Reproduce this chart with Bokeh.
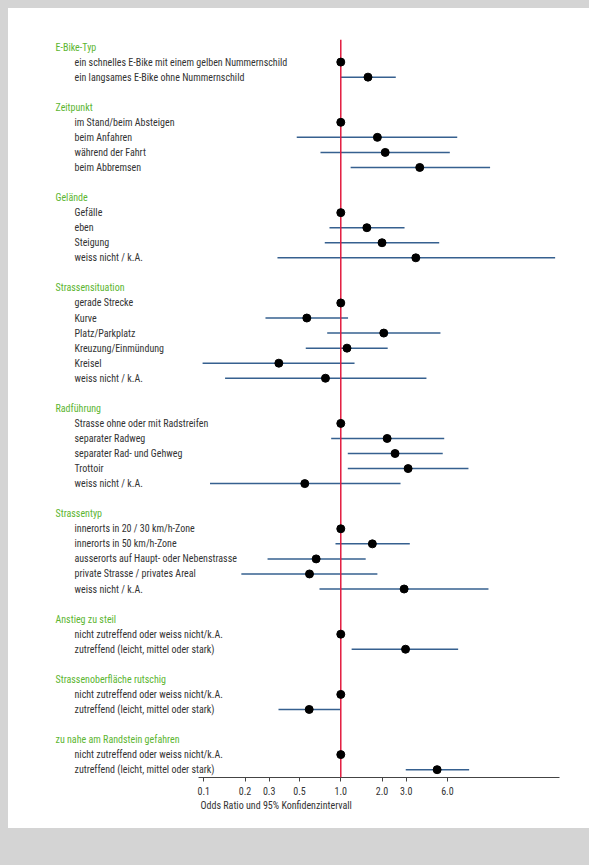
from bokeh.plotting import figure
from bokeh.models import (ColumnDataSource, LabelSet, Span, FixedTicker,
                          CustomJSTickFormatter, Range1d, Title)
from bokeh.core.properties import value
from bokeh.embed import file_html
from bokeh.resources import INLINE

# ---------------- data ----------------
group_names = [
    "E-Bike-Typ", "Zeitpunkt", "Gelände", "Strassensituation", "Radführung",
    "Strassentyp", "Anstieg zu steil", "Strassenoberfläche rutschig",
    "zu nahe am Randstein gefahren",
]
group_sizes = [2, 4, 4, 6, 5, 5, 2, 2, 2]

item_labels = [
    "ein schnelles E-Bike mit einem gelben Nummernschild",
    "ein langsames E-Bike ohne Nummernschild",
    "im Stand/beim Absteigen",
    "beim Anfahren",
    "während der Fahrt",
    "beim Abbremsen",
    "Gefälle",
    "eben",
    "Steigung",
    "weiss nicht / k.A.",
    "gerade Strecke",
    "Kurve",
    "Platz/Parkplatz",
    "Kreuzung/Einmündung",
    "Kreisel",
    "weiss nicht / k.A.",
    "Strasse ohne oder mit Radstreifen",
    "separater Radweg",
    "separater Rad- und Gehweg",
    "Trottoir",
    "weiss nicht / k.A.",
    "innerorts in 20 / 30 km/h-Zone",
    "innerorts in 50 km/h-Zone",
    "ausserorts auf Haupt- oder Nebenstrasse",
    "private Strasse / privates Areal",
    "weiss nicht / k.A.",
    "nicht zutreffend oder weiss nicht/k.A.",
    "zutreffend (leicht, mittel oder stark)",
    "nicht zutreffend oder weiss nicht/k.A.",
    "zutreffend (leicht, mittel oder stark)",
    "nicht zutreffend oder weiss nicht/k.A.",
    "zutreffend (leicht, mittel oder stark)",
]

odds_ratio = [1.0, 1.58,
              1.0, 1.85, 2.11, 3.77,
              1.0, 1.55, 2.00, 3.53,
              1.0, 0.565, 2.06, 1.11, 0.353, 0.773,
              1.0, 2.18, 2.49, 3.10, 0.546,
              1.0, 1.70, 0.661, 0.591, 2.90,
              1.0, 2.97,
              1.0, 0.588,
              1.0, 5.05]
ci_low = [1.0, 1.0,
          1.0, 0.477, 0.711, 1.18,
          1.0, 0.827, 0.764, 0.345,
          1.0, 0.282, 0.796, 0.555, 0.098, 0.143,
          1.0, 0.851, 1.125, 1.125, 0.111,
          1.0, 0.915, 0.292, 0.188, 0.699,
          1.0, 1.20,
          1.0, 0.351,
          1.0, 2.98]
ci_high = [1.0, 2.52,
           1.0, 7.08, 6.25, 12.3,
           1.0, 2.92, 5.23, 36.7,
           1.0, 1.13, 5.34, 2.20, 1.26, 4.22,
           1.0, 5.69, 5.55, 8.55, 2.73,
           1.0, 3.19, 1.52, 1.85, 11.97,
           1.0, 7.19,
           1.0, 1.0,
           1.0, 8.65]

tick_values = [0.1, 0.2, 0.3, 0.5, 1.0, 2.0, 3.0, 6.0]
axis_bounds = (0.0914, 39.5)
x_label = "Odds Ratio und 95% Konfidenzintervall"

# ---------------- row layout (header, items, blank) ----------------
header_rows = []
item_rows = []
r = 0
for n in group_sizes:
    header_rows.append(r)
    item_rows.extend(range(r + 1, r + 1 + n))
    r += n + 2
last_row = r - 2

FONT_STR = "'Roboto Condensed', 'DejaVu Sans Condensed', sans-serif"
FONT = value(FONT_STR)
FS = "10px"
GREEN = "#5cb531"
TEXT = "#333333"
BLUE = "#36608f"
RED = "#e31b3f"

# the frame spans the label column too, so the labels are not clipped;
# the axis itself is limited to the data bounds
p = figure(
    width=573, height=828,
    x_axis_type="log",
    x_range=Range1d(0.003753, 39.5),
    y_range=Range1d(last_row + 0.52, -0.5),
    y_axis_location=None,
    toolbar_location=None,
    output_backend="svg",
    min_border_left=0, min_border_right=22,
    min_border_top=31, min_border_bottom=59,
    outline_line_color=None,
    background_fill_color="white",
    border_fill_color="white",
)
p.grid.visible = False

ci_src = ColumnDataSource(dict(y=item_rows, lo=ci_low, hi=ci_high, orr=odds_ratio))
p.segment(x0="lo", y0="y", x1="hi", y1="y", source=ci_src,
          line_color=BLUE, line_width=1.5)

ref = Span(location=1.0, dimension="height", line_color=RED, line_width=1.5)
p.add_layout(ref)

pts = p.scatter(x="orr", y="y", source=ci_src, size=8,
                fill_color="black", line_color="black")
pts.level = "overlay"

# left text labels (screen x measured from the frame's left edge)
hdr_src = ColumnDataSource(dict(y=header_rows, text=group_names))
itm_src = ColumnDataSource(dict(y=item_rows, text=item_labels))
p.add_layout(LabelSet(x=47, x_units="screen", y="y", text="text", source=hdr_src,
                      text_font=FONT, text_font_size=FS, text_color=GREEN,
                      text_align="left", text_baseline="middle"))
p.add_layout(LabelSet(x=66, x_units="screen", y="y", text="text", source=itm_src,
                      text_font=FONT, text_font_size=FS, text_color=TEXT,
                      text_align="left", text_baseline="middle"))

# x axis
ax = p.xaxis[0]
ax.bounds = axis_bounds
ax.ticker = FixedTicker(ticks=tick_values)
ax.formatter = CustomJSTickFormatter(code="return tick.toFixed(1);")
ax.minor_tick_line_color = None
ax.major_tick_in = 0
ax.major_tick_out = 4
ax.major_label_standoff = 5
ax.major_label_text_font = FONT_STR
ax.major_label_text_font_size = FS
ax.major_label_text_color = TEXT
ax.axis_line_color = "#444444"
ax.major_tick_line_color = "#444444"

p.add_layout(Title(text=x_label, align="left", offset=192, text_font=FONT_STR,
                   text_font_size=FS, text_font_style="normal",
                   text_color=TEXT, standoff=0), "below")

html = file_html(p, INLINE, title="Odds Ratio")
css = ("<style>html{background:#d4d4d4;} "
       "body{margin:0;border-top:8px solid #d4d4d4;border-left:8px solid #d4d4d4;"
       "background:#ffffff;height:828px;}</style></head>")
html = html.replace("</head>", css, 1)
open("out.html", "w").write(html)
